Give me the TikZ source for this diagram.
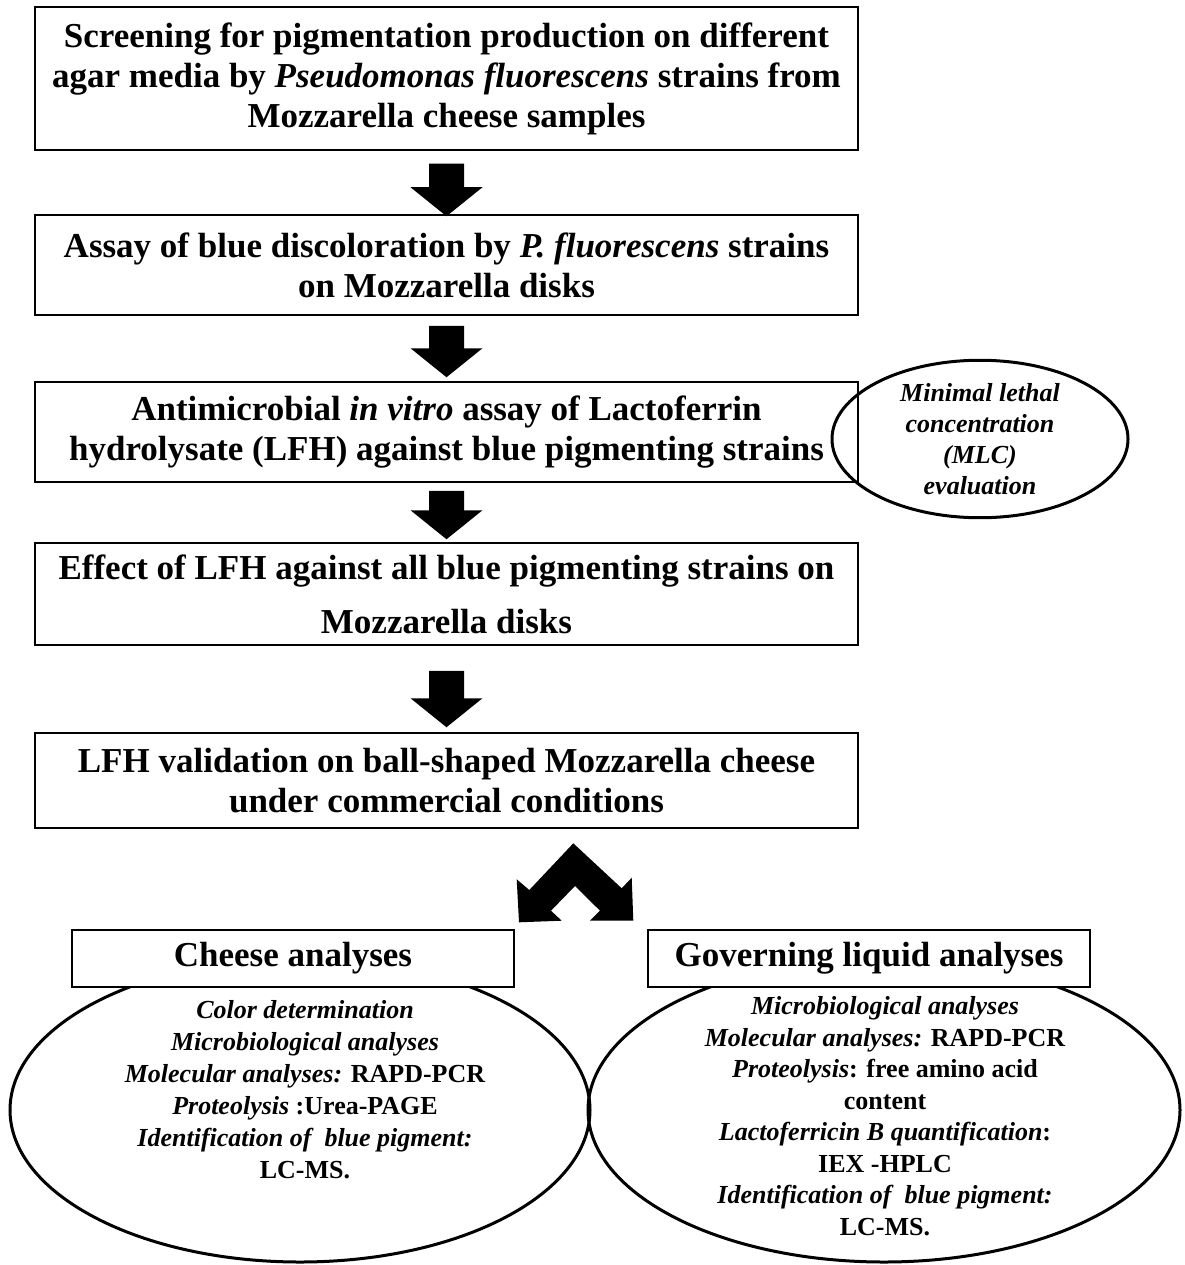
\documentclass[tikz,border=0pt]{standalone}
\usepackage{fontspec}
\setmainfont{Liberation Serif}
\usetikzlibrary{shapes.geometric,calc}
\begin{document}
\begin{tikzpicture}[x=1pt,y=-1pt,
  stepbox/.style={draw,line width=1.5pt,fill=white,align=center,
    minimum width=823pt,inner sep=0pt,font=\bfseries\fontsize{35}{40}\selectfont},
  titlebox/.style={draw,line width=1.5pt,fill=white,minimum width=442pt,minimum height=57pt,
    inner sep=0pt,font=\bfseries\fontsize{35}{40}\selectfont},
  oval/.style={draw,ellipse,line width=3pt,inner sep=0pt},
  ovaltext/.style={align=center,font=\bfseries\fontsize{26}{32}\selectfont},
  blk/.style={fill=black}]
\useasboundingbox (0,0) rectangle (1184,1265);

% bottom ellipses
\node[oval,minimum width=580pt,minimum height=304pt] (ce) at (300,1110) {};
\node[oval,minimum width=592pt,minimum height=304pt] (ge) at (884,1110) {};
\node[ovaltext] (cet) at (305,1090) {\textit{Color determination}\\
\textit{Microbiological analyses}\\
\textit{Molecular analyses:} RAPD-PCR\\
\textit{Proteolysis} :Urea-PAGE\\
\textit{Identification of\ \ blue pigment:}\\
LC-MS.};
\node[ovaltext,font=\bfseries\fontsize{26}{31.5}\selectfont] (get) at (885,1116) {\textit{Microbiological analyses}\\
\textit{Molecular analyses:} RAPD-PCR\\
\textit{Proteolysis}: free amino acid\\
content\\
\textit{Lactoferricin B quantification}:\\
IEX -HPLC\\
\textit{Identification of\ \ blue pigment:}\\
LC-MS.};

% main boxes
\node[stepbox,minimum height=143pt] (b1) at (446.5,78.5) {Screening for pigmentation production on different\\
agar media by \textit{Pseudomonas fluorescens} strains from\\
Mozzarella cheese samples};
\node[stepbox,minimum height=100pt] (b2) at (446.5,265) {Assay of blue discoloration by \textit{P. fluorescens} strains\\
on Mozzarella disks};
\node[stepbox,minimum height=100pt] (b3) at (446.5,432) {Antimicrobial \textit{in vitro} assay of Lactoferrin\\
hydrolysate (LFH) against blue pigmenting strains};
\node[stepbox,minimum height=102pt] (b4) at (446.5,594) {Effect of LFH against all blue pigmenting strains on\\[14pt]
Mozzarella disks};
\node[stepbox,minimum height=95pt] (b5) at (446.5,780.5) {LFH validation on ball-shaped Mozzarella cheese\\
under commercial conditions};

% MLC ellipse (drawn over the box edge)
\node[oval,minimum width=296pt,minimum height=138pt,align=center,
  font=\bfseries\itshape\fontsize{26}{31}\selectfont] (mlc) at (980,439)
  {Minimal lethal\\concentration\\(MLC)\\evaluation};

\node[titlebox] (cb) at (293,958.5) {Cheese analyses};
\node[titlebox] (gb) at (869,958.5) {Governing liquid analyses};

% block arrows between boxes
\newcommand\blockarrow[4]{% from node, to node, top gap, tip gap
  \fill[blk] ($(#1.south)+(-17.5,#3)$) -- ($(#2.north)+(-17.5,-29-#4)$) -- ($(#2.north)+(-36,-29-#4)$)
    -- ($(#2.north)+(0,-#4)$) -- ($(#2.north)+(36,-29-#4)$) -- ($(#2.north)+(17.5,-29-#4)$)
    -- ($(#1.south)+(17.5,#3)$) -- cycle;}
\blockarrow{b1}{b2}{13}{-2}
\blockarrow{b2}{b3}{10}{4}
\blockarrow{b3}{b4}{8}{3}
\blockarrow{b4}{b5}{25}{5}

% double chevron arrow
\fill[blk] (573.3,843.3) -- (621.7,888.3) -- (631.7,877.7) -- (633.3,920.7) -- (590,920.7)
  -- (600,910.7) -- (575,886) -- (551,910.7) -- (561.7,920.7) -- (519,922.3)
  -- (516.7,879.3) -- (529.3,890) -- cycle;
\end{tikzpicture}
\end{document}
